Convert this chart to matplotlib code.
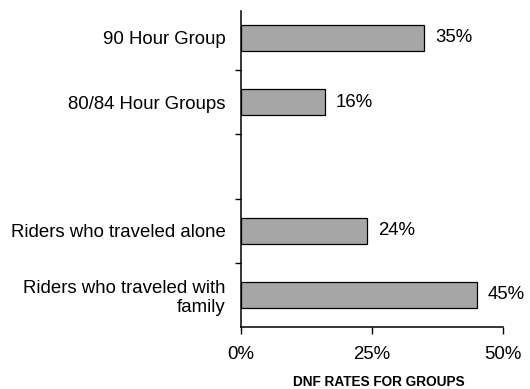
import matplotlib
matplotlib.use("Agg")
import matplotlib.pyplot as plt
import numpy as np
from matplotlib.ticker import PercentFormatter, FixedLocator

# DNF rates per rider group (empty slot separates the two sets of groups)
groups = ["90 Hour Group", "80/84 Hour Groups", "",
          "Riders who traveled alone", "Riders who traveled with\nfamily"]
dnf_rates = [0.35, 0.16, None, 0.24, 0.45]
x_ticks = [0.0, 0.25, 0.5]

plt.rcParams['font.family'] = ['Liberation Sans', 'DejaVu Sans']


def main():
    fig = plt.figure(figsize=(5.3, 3.89), dpi=100)
    ax = fig.add_axes([0.4547, 0.1594, 0.9491 - 0.4547, 0.9717 - 0.1594])

    pos = np.arange(len(groups))
    for i, rate in enumerate(dnf_rates):
        if rate is None:
            continue
        ax.barh(pos[i], rate, height=0.4, color='#a6a6a6',
                edgecolor='black', linewidth=0.9)
        ax.annotate(f"{rate:.0%}", (rate, pos[i]), xytext=(8, 0),
                    textcoords='offset points', va='center', ha='left',
                    fontsize=13.4)

    ax.set_xlim(0, 0.5)
    ax.set_ylim(len(groups) - 0.5, -0.42)

    # tick marks sit between categories, labels sit at category centres
    ax.yaxis.set_major_locator(FixedLocator(pos[:-1] + 0.5))
    ax.yaxis.set_major_formatter(plt.NullFormatter())
    ax.yaxis.set_minor_locator(FixedLocator(pos))
    ax.set_yticklabels(groups, minor=True)
    ax.tick_params(axis='y', which='major', length=4, width=1)
    ax.tick_params(axis='y', which='minor', length=0, pad=11, labelsize=13.4)

    ax.set_xticks(x_ticks)
    ax.xaxis.set_major_formatter(PercentFormatter(xmax=1, decimals=0))
    ax.tick_params(axis='x', length=5, width=1, pad=9, labelsize=13.4)

    for side in ['top', 'right']:
        ax.spines[side].set_visible(False)
    for side in ['left', 'bottom']:
        ax.spines[side].set_linewidth(1.1)

    fig.text(0.715, 0.008, "DNF RATES FOR GROUPS", ha='center', va='baseline',
             fontsize=9.8, fontweight='bold')

    fig.savefig("out.png", dpi=100)


if __name__ == '__main__':
    main()
